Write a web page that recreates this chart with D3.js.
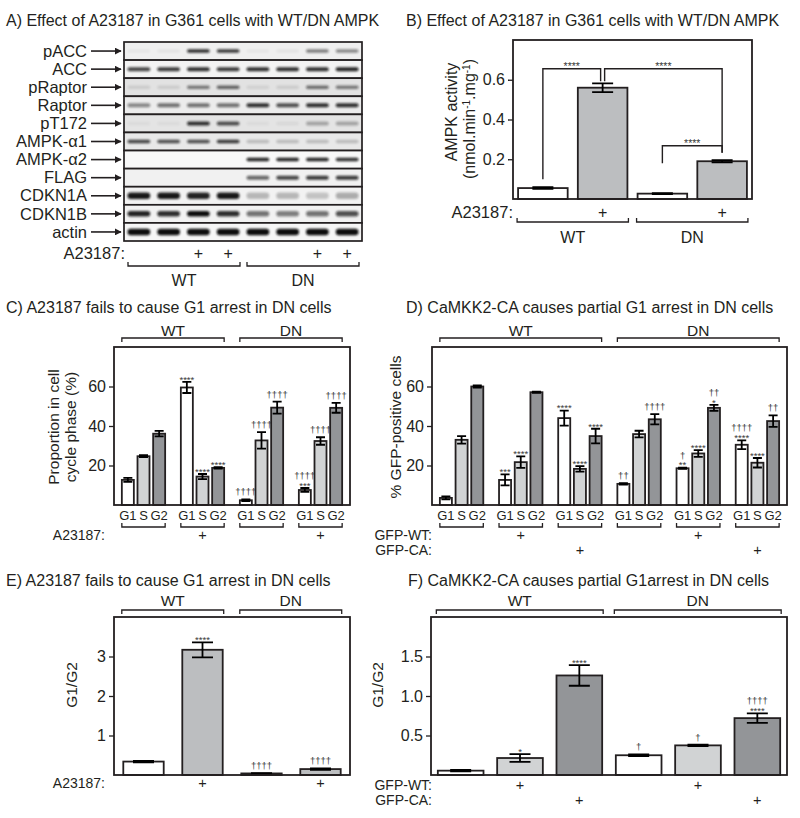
<!DOCTYPE html>
<html><head><meta charset="utf-8">
<script src="https://cdn.jsdelivr.net/npm/d3@7"></script>
<style>
body{margin:0;background:#fff;}
svg{font-family:"Liberation Sans",Arial,Helvetica,sans-serif;}
</style></head><body>
<svg id="fig" width="800" height="818"></svg>
<script>
// ================= DATA =================
// Panel A (western blot)
const blotRows = ["pACC","ACC","pRaptor","Raptor","pT172","AMPK-\u03b11","AMPK-\u03b12","FLAG","CDKN1A","CDKN1B","actin"];
const blotLaneA23187 = ["","","+","+","","","+","+"];
const blotGenotypes = ["WT","DN"];
const blotPACC    = [0.04,0.05,0.85,0.80,0.04,0.05,0.50,0.45];
const blotACC     = [0.75,0.80,0.85,0.80,0.85,0.85,0.85,0.90];
const blotPRaptor = [0.10,0.10,0.50,0.60,0.08,0.10,0.55,0.50];
const blotRaptor  = [0.45,0.55,0.55,0.55,0.85,0.70,0.85,0.85];
const blotPT172   = [0.04,0.04,0.85,0.70,0.04,0.05,0.30,0.30];
const blotAlpha1  = [0.75,0.70,0.70,0.80,0.20,0.20,0.20,0.20];
const blotAlpha2  = [0,0,0,0,0.90,0.90,0.90,0.85];
const blotFLAG    = [0,0,0,0,0.60,0.75,0.80,0.80];
const blotCDKN1A  = [0.95,0.95,0.90,0.95,0.25,0.25,0.20,0.30];
const blotCDKN1B  = [0.90,0.85,1.00,0.85,0.55,0.50,0.55,0.70];
const blotActin   = [1,1,1,1,1,1,1,1];

// Panel B
const bGenotype = ["WT","WT","DN","DN"];
const bA23187   = ["","+","","+"];
const bActivity = [0.055,0.56,0.027,0.19];
const bActErr   = [0.004,0.022,0.002,0.006];
const bTicks    = [0.2,0.4,0.6];
const bSigPairs = [[0,1],[1,3],[2,3]];
const bSigText  = ["****","****","****"];
const bSigTop   = [0.655,0.655,0.268];
const bSigLegs  = [[0.10,0.592],[0.592,0.233],[0.18,0.233]];

// Panel C
const cGenotype = ["WT","WT","DN","DN"];
const cA23187   = ["","+","","+"];
const phases    = ["G1","S","G2"];
const cG1   = [12.7,59.5,2.4,7.6];
const cS    = [24.7,14.4,32.7,32.4];
const cG2   = [36.1,18.8,49.3,49.2];
const cG1Err = [1.0,2.8,0.4,1.0];
const cSErr  = [0.5,1.3,4.2,1.9];
const cG2Err = [1.4,0.4,3.0,2.5];
const cG1Sig = ["","****","\u2020\u2020\u2020\u2020","\u2020\u2020\u2020\u2020\n***"];
const cSSig  = ["","****","\u2020\u2020\u2020\u2020","\u2020\u2020\u2020\u2020"];
const cG2Sig = ["","****","\u2020\u2020\u2020\u2020","\u2020\u2020\u2020\u2020"];
const pctTicks = [20,40,60];

// Panel D
const dGenotype = ["WT","WT","WT","DN","DN","DN"];
const dGFPWT = ["","+","","","+",""];
const dGFPCA = ["","","+","","","+"];
const dG1   = [3.6,12.7,44.0,10.7,18.6,30.5];
const dS    = [33.0,21.7,18.3,35.9,26.1,21.4];
const dG2   = [60.0,57.1,34.9,43.4,49.2,42.5];
const dG1Err = [0.8,2.8,3.8,0.4,0.3,2.2];
const dSErr  = [1.9,2.9,1.4,1.7,1.7,2.4];
const dG2Err = [0.5,0.3,3.7,2.6,1.5,2.9];
const dG1Sig = ["","***","****","\u2020\u2020","\u2020\n**","\u2020\u2020\u2020\u2020\n****"];
const dSSig  = ["","****","****","","****","****"];
const dG2Sig = ["","","****","\u2020\u2020\u2020\u2020","\u2020\u2020\n*","\u2020\u2020"];

// Panel E
const eGenotype = ["WT","WT","DN","DN"];
const eA23187 = ["","+","","+"];
const eRatio  = [0.34,3.17,0.04,0.15];
const eErr    = [0.02,0.19,0.01,0.02];
const eSig    = ["","****","\u2020\u2020\u2020\u2020","\u2020\u2020\u2020\u2020"];
const eTicks  = [1,2,3];

// Panel F
const fGenotype = ["WT","WT","WT","DN","DN","DN"];
const fGFPWT = ["","+","","","+",""];
const fGFPCA = ["","","+","","","+"];
const fRatio = [0.055,0.215,1.26,0.25,0.375,0.72];
const fErr   = [0.01,0.05,0.13,0.01,0.01,0.06];
const fSig   = ["","*","****","\u2020","\u2020","\u2020\u2020\u2020\u2020\n****"];
const fTicks = [0.5,1.0,1.5];

// ================= DRAWING =================
const INK = "#231f20";
const WHITE = "#ffffff", LIGHT = "#d1d3d4", MID = "#bcbec0", DARK = "#939598";
const svg = d3.select("#fig");
const defs = svg.append("defs");
defs.append("filter").attr("id","blur").attr("x","-30%").attr("y","-100%").attr("width","160%").attr("height","300%")
  .append("feGaussianBlur").attr("stdDeviation",1.1);
defs.append("marker").attr("id","arrow").attr("viewBox","0 0 10 10").attr("refX",9).attr("refY",5)
  .attr("markerWidth",7).attr("markerHeight",7).attr("markerUnits","userSpaceOnUse").attr("orient","auto")
  .append("path").attr("d","M0,0L10,5L0,10z").attr("fill",INK);

function addText(g,x,y,s,size,anchor="start",fill=INK){
  return g.append("text").attr("x",x).attr("y",y).attr("font-size",size)
    .attr("text-anchor",anchor).attr("fill",fill).text(s);
}
function hBracket(g,x1,x2,y,tick){
  g.append("path").attr("d",`M${x1},${y+tick}V${y}H${x2}V${y+tick}`)
    .attr("fill","none").attr("stroke",INK).attr("stroke-width",1.3);
}
function frame(g,x0,y0,x1,y1){
  g.append("rect").attr("x",x0).attr("y",y0).attr("width",x1-x0).attr("height",y1-y0)
    .attr("fill","none").attr("stroke",INK).attr("stroke-width",1.8);
}
function yAxis(g,y,x0,ticks,fmt,size){
  const a = g.append("g").attr("transform",`translate(${x0},0)`)
    .call(d3.axisLeft(y).tickValues(ticks).tickSize(5).tickPadding(3).tickFormat(fmt));
  a.select(".domain").remove();
  a.selectAll("text").attr("font-size",size).attr("fill",INK).attr("font-family",null);
  a.selectAll("line").attr("stroke",INK).attr("stroke-width",1.3);
}
function rotLabel(g,x,y,s,size){
  return g.append("text").attr("transform",`translate(${x},${y}) rotate(-90)`)
    .attr("text-anchor","middle").attr("font-size",size).attr("fill",INK).text(s);
}
function sigText(g,cx,yTop,s,size=9.5){
  if(!s) return;
  const lines = s.split("\n").reverse();
  let bottom = yTop - 3;
  lines.forEach(l=>{
    const isStar = l.indexOf("*")>=0;
    const base = isStar ? bottom + 0.4*size : bottom - 1;
    addText(g,cx,base,l,size,"middle","#3a3a3a");
    bottom = base - 0.72*size - 2;
  });
}
function barWithErr(g,x,w,v,e,y,fill,capW,sig){
  g.append("rect").attr("x",x).attr("y",y(v)).attr("width",w).attr("height",y(0)-y(v))
    .attr("fill",fill).attr("stroke",INK).attr("stroke-width",1.8);
  const cx = x+w/2, yt=y(v+e), yb=y(Math.max(0,v-e));
  g.append("path").attr("d",`M${cx-capW/2},${yt}H${cx+capW/2}M${cx},${yt}V${yb}M${cx-capW/2},${yb}H${cx+capW/2}`)
    .attr("fill","none").attr("stroke","#000").attr("stroke-width",1.8);
  sigText(g,cx,yt,sig);
}
function genoRuns(arr){
  const runs=[]; arr.forEach((gname,i)=>{
    if(runs.length && runs[runs.length-1].name===gname) runs[runs.length-1].end=i;
    else runs.push({name:gname,start:i,end:i});
  }); return runs;
}

// ---------- Panel A ----------
(function(){
  const g = svg.append("g");
  addText(g,6,25.5,"A) Effect of A23187 in G361 cells with WT/DN AMPK",16);
  const rowsData = [blotPACC,blotACC,blotPRaptor,blotRaptor,blotPT172,blotAlpha1,blotAlpha2,blotFLAG,blotCDKN1A,blotCDKN1B,blotActin];
  const rowBg = ["#efefef","#f3f3f3","#e2e2e2","#ececec","#e4e4e4","#e8e8e8","#f8f8f8","#f1f1f1","#f2f2f2","#f2f2f2","#f6f6f6"];
  const bandH = [3.5,4,3.5,4,4,3.5,3.5,4,6.5,5.5,6.5];
  const lane = d3.scaleBand().domain(d3.range(blotLaneA23187.length)).range([124,362]);
  const row = d3.scaleBand().domain(blotRows).range([42,241]);
  const [lx0,lx1] = lane.range();
  blotRows.forEach((r,i)=>{
    const y0=row(r), h=row.bandwidth(), cy=y0+h/2;
    g.append("rect").attr("x",lx0).attr("y",y0).attr("width",lx1-lx0).attr("height",h).attr("fill",rowBg[i]);
    rowsData[i].forEach((v,j)=>{
      if(v<=0) return;
      g.append("rect").attr("x",lane(j)+3.5).attr("y",cy-bandH[i]/2).attr("width",lane.bandwidth()-7)
        .attr("height",bandH[i]).attr("rx",bandH[i]/2).attr("fill","#111").attr("opacity",v).attr("filter","url(#blur)");
    });
    g.append("rect").attr("x",lx0).attr("y",y0).attr("width",lx1-lx0).attr("height",h)
      .attr("fill","none").attr("stroke",INK).attr("stroke-width",1.7);
    addText(g,87,cy+5.7,r,16.5,"end");
    g.append("line").attr("x1",91).attr("x2",121).attr("y1",cy).attr("y2",cy)
      .attr("stroke",INK).attr("stroke-width",1.6).attr("marker-end","url(#arrow)");
  });
  addText(g,125,258.7,"A23187:",16.5,"end");
  blotLaneA23187.forEach((s,j)=>{ if(s) addText(g,lane(j)+lane.bandwidth()/2,258.5,s,16,"middle"); });
  const laneGeno = blotLaneA23187.map((_,j)=> j<4 ? blotGenotypes[0] : blotGenotypes[1]);
  genoRuns(laneGeno).forEach(rn=>{
    const x1=lane(rn.start)+4, x2=lane(rn.end)+lane.bandwidth()-3;
    hBracket(g,x1,x2,266,-4);
    addText(g,(x1+x2)/2,285.5,rn.name,16,"middle");
  });
})();

// ---------- Panel B ----------
(function(){
  const g = svg.append("g");
  addText(g,406,25.5,"B) Effect of A23187 in G361 cells with WT/DN AMPK",16);
  const x = d3.scaleBand().domain(d3.range(bActivity.length)).range([513,752]).paddingInner(0.17).paddingOuter(0.085);
  const y = d3.scaleLinear().domain([0,0.8]).range([199,40]);
  const fills = [WHITE,MID,WHITE,MID];
  bActivity.forEach((v,i)=> barWithErr(g,x(i),x.bandwidth(),v,bActErr[i],y,fills[i],21,""));
  frame(g,513,40,752,199);
  yAxis(g,y,513,bTicks,d3.format(".1f"),16);
  const cx = i=>x(i)+x.bandwidth()/2;
  bSigPairs.forEach((p,k)=>{
    let xa=cx(p[0]), xb=cx(p[1]);
    if(k===0) xb-=2; if(k===1) xa+=2;
    const yt=y(bSigTop[k]);
    g.append("path").attr("d",`M${xa},${y(bSigLegs[k][0])}V${yt}H${xb}V${y(bSigLegs[k][1])}`)
      .attr("fill","none").attr("stroke",INK).attr("stroke-width",1.4);
    addText(g,(xa+xb)/2,yt+1,bSigText[k],10.5,"middle","#3a3a3a");
  });
  addText(g,513,217.5,"A23187:",16.5,"end");
  bA23187.forEach((s,i)=>{ if(s) addText(g,cx(i),217.5,s,16,"middle"); });
  genoRuns(bGenotype).forEach(rn=>{
    const x1=x(rn.start)-1, x2=x(rn.end)+x.bandwidth()+1;
    hBracket(g,x1,x2,222,-4);
    addText(g,(x1+x2)/2,242.5,rn.name,16,"middle");
  });
  rotLabel(g,457,112,"AMPK activity",16);
  const t = g.append("text").attr("transform","translate(475,119) rotate(-90)").attr("text-anchor","middle")
    .attr("font-size",16).attr("fill",INK);
  t.append("tspan").text("(nmol.min");
  t.append("tspan").attr("dy",-5).attr("font-size",10).text("-1");
  t.append("tspan").attr("dy",5).text(".mg");
  t.append("tspan").attr("dy",-5).attr("font-size",10).text("-1");
  t.append("tspan").attr("dy",5).text(")");
})();

// ---------- grouped (C, D) ----------
function groupedPanel(opt){
  const g = svg.append("g");
  addText(g,opt.titleX,312.5,opt.title,16);
  const n = opt.g1.length;
  const X = d3.scaleBand().domain(d3.range(n)).range([opt.x0,opt.x1]).paddingInner(0.266).paddingOuter(0.133);
  const sub = d3.scaleBand().domain(phases).range([0,X.bandwidth()]).paddingInner(0.233).paddingOuter(0);
  const y = d3.scaleLinear().domain([0,80]).range([505,347]);
  const vals = [opt.g1,opt.s,opt.g2], errs=[opt.g1e,opt.se,opt.g2e], sigs=[opt.g1s,opt.ss,opt.g2s];
  const fills = [WHITE,LIGHT,DARK];
  for(let i=0;i<n;i++){
    phases.forEach((ph,k)=>{
      barWithErr(g,X(i)+sub(ph),sub.bandwidth(),vals[k][i],errs[k][i],y,fills[k],9,sigs[k][i]);
      addText(g,X(i)+sub(ph)+sub.bandwidth()/2,519.5,ph,13,"middle");
    });
    hBracket(g,X(i),X(i)+X.bandwidth(),527,-4);
  }
  frame(g,opt.x0,347,opt.x1,505);
  yAxis(g,y,opt.x0,pctTicks,d3.format("d"),16);
  genoRuns(opt.geno).forEach(rn=>{
    const x1=X(rn.start), x2=X(rn.end)+X.bandwidth();
    hBracket(g,x1,x2,338,4);
    addText(g,(x1+x2)/2,335.5,rn.name,15.5,"middle");
  });
  opt.rows.forEach((r,ri)=>{
    const yy = 540 + ri*15;
    addText(g,opt.rowLabelX,yy,r.label,14,"end");
    r.vals.forEach((s,i)=>{ if(s) addText(g,X(i)+X.bandwidth()/2,yy,s,14.5,"middle"); });
  });
  opt.ylabels.forEach(l=> rotLabel(g,l.x,427,l.text,15.5));
}
groupedPanel({title:"C) A23187 fails to cause G1 arrest in DN cells",titleX:6,x0:114,x1:350,
  g1:cG1,s:cS,g2:cG2,g1e:cG1Err,se:cSErr,g2e:cG2Err,g1s:cG1Sig,ss:cSSig,g2s:cG2Sig,geno:cGenotype,
  rows:[{label:"A23187:",vals:cA23187}],rowLabelX:105,
  ylabels:[{x:59,text:"Proportion in cell"},{x:76,text:"cycle phase (%)"}]});
groupedPanel({title:"D) CaMKK2-CA causes partial G1 arrest in DN cells",titleX:406,x0:432,x1:787,
  g1:dG1,s:dS,g2:dG2,g1e:dG1Err,se:dSErr,g2e:dG2Err,g1s:dG1Sig,ss:dSSig,g2s:dG2Sig,geno:dGenotype,
  rows:[{label:"GFP-WT:",vals:dGFPWT},{label:"GFP-CA:",vals:dGFPCA}],rowLabelX:432,
  ylabels:[{x:401,text:"% GFP-positive cells"}]});

// ---------- ratio (E, F) ----------
function ratioPanel(opt){
  const g = svg.append("g");
  addText(g,opt.titleX,585.5,opt.title,16);
  const n = opt.vals.length;
  const X = d3.scaleBand().domain(d3.range(n)).range([opt.x0,opt.x1]).paddingInner(opt.pad).paddingOuter(opt.pad/2);
  const y = d3.scaleLinear().domain([0,opt.max]).range([775,617]);
  opt.vals.forEach((v,i)=> barWithErr(g,X(i),X.bandwidth(),v,opt.errs[i],y,opt.fills[i],21,opt.sigs[i]));
  frame(g,opt.x0,617,opt.x1,775);
  yAxis(g,y,opt.x0,opt.ticks,opt.fmt,16);
  genoRuns(opt.geno).forEach(rn=>{
    const x1=X(rn.start)-1.5, x2=X(rn.end)+X.bandwidth()+1;
    hBracket(g,x1,x2,610,4);
    addText(g,(x1+x2)/2,605.5,rn.name,15.5,"middle");
  });
  opt.rows.forEach((r,ri)=>{
    const yy = opt.rowY + ri*15;
    addText(g,opt.rowLabelX,yy,r.label,14,"end");
    r.vals.forEach((s,i)=>{ if(s) addText(g,X(i)+X.bandwidth()/2,yy,s,14.5,"middle"); });
  });
  rotLabel(g,opt.ylabX,685,"G1/G2",15.5);
}
ratioPanel({title:"E) A23187 fails to cause G1 arrest in DN cells",titleX:6,x0:114,x1:350,pad:0.315,max:4,
  vals:eRatio,errs:eErr,sigs:eSig,fills:[WHITE,MID,WHITE,MID],ticks:eTicks,fmt:d3.format("d"),geno:eGenotype,
  rows:[{label:"A23187:",vals:eA23187}],rowY:788,rowLabelX:105,ylabX:77});
ratioPanel({title:"F) CaMKK2-CA causes partial G1arrest in DN cells",titleX:408,x0:431,x1:787,pad:0.23,max:2,
  vals:fRatio,errs:fErr,sigs:fSig,fills:[WHITE,LIGHT,DARK,WHITE,LIGHT,DARK],ticks:fTicks,fmt:d3.format(".1f"),geno:fGenotype,
  rows:[{label:"GFP-WT:",vals:fGFPWT},{label:"GFP-CA:",vals:fGFPCA}],rowY:790,rowLabelX:432,ylabX:383});
</script>
</body></html>
